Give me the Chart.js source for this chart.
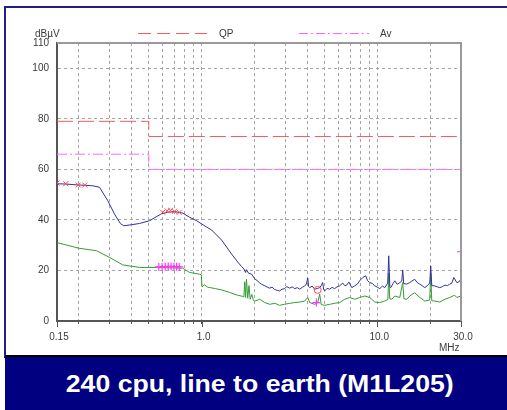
<!DOCTYPE html>
<html>
<head>
<meta charset="utf-8">
<script src="https://cdn.jsdelivr.net/npm/chart.js@4.4.1/dist/chart.umd.min.js"></script>
<style>
  html { margin: 0; padding: 0; background: #000080; overflow: hidden; }
  body { margin: 0; padding: 0; background: transparent; width: 507px; height: 410px;
    position: relative; font-family: Arial, "Liberation Sans", sans-serif; }
  #sheet { position: absolute; left: 0; top: 0; width: 507px; height: 356px; background: #fff; }
  #gutter { position: absolute; left: 0; top: 356px; width: 5px; height: 80px; background: #fff; }
  #frame { position: absolute; left: 4px; top: 6px; width: 501px; height: 350px;
    border-top: 2px solid #1e1e8c; border-left: 2px solid #1e1e8c; }
  #chart { position: absolute; left: 0; top: 0; }
  #caption { position: absolute; left: 5px; top: 355px; width: 502px; height: 80px;
    background: #000080; border-top: 2px solid #000; color: #fff; font-weight: bold;
    font-size: 24px; line-height: 53px; text-align: center; white-space: nowrap; }
  #caption span { display: inline-block; margin-left: 8px; transform: scaleX(1.11); }
</style>
</head>
<body>
<div id="sheet"></div>
<div id="gutter"></div>
<div id="frame"></div>
<canvas id="chart" width="507" height="356"></canvas>
<div id="caption"><span>240 cpu, line to earth (M1L205)</span></div>
<script>
// limit lines (dBµV)
const qpLimitFreq = [0.15, 0.5, 0.5, 30];
const qpLimitLevel = [79, 79, 73, 73];
const avLimitFreq = [0.15, 0.5, 0.5, 30];
const avLimitLevel = [66, 66, 60, 60];

// peak scan
const peakFreq = [
  0.150, 0.168, 0.200, 0.218, 0.240, 0.262, 0.278, 0.292, 0.319, 0.345,
  0.360, 0.400, 0.443, 0.506, 0.550, 0.590, 0.640, 0.700, 0.780, 0.855,
  0.930, 1.000, 1.060, 1.140, 1.300, 1.480, 1.620, 1.690, 1.740, 1.780,
  1.800, 1.850, 1.930, 2.000, 2.070, 2.140, 2.200, 2.290, 2.380, 2.440,
  2.520, 2.600, 2.700, 2.780, 2.870, 2.970, 3.050, 3.170, 3.280, 3.390,
  3.500, 3.620, 3.740, 3.860, 3.950, 4.020, 4.070, 4.120, 4.260, 4.400,
  4.580, 4.700, 4.800, 4.890, 4.950, 5.020, 5.180, 5.360, 5.530, 5.720,
  5.900, 6.110, 6.360, 6.530, 6.700, 6.900, 7.160, 7.440, 7.700, 7.940,
  8.270, 8.600, 8.800, 9.070, 9.400, 9.680, 10.00, 10.33, 10.70, 11.03,
  11.47, 11.63, 11.80, 11.94, 12.30, 12.59, 13.00, 13.44, 13.80, 13.97,
  14.15, 14.73, 15.32, 15.80, 16.36, 16.90, 17.47, 18.00, 18.65, 19.30,
  19.91, 20.17, 20.45, 21.26, 22.00, 22.70, 23.50, 24.30, 25.10, 25.90,
  26.60, 27.30, 28.40, 29.20, 29.90, 30.00
];
const peakLevel = [
  54.3, 54.2, 53.8, 53.7, 53.5, 52.9, 50.0, 47.6, 42.3, 38.5,
  37.7, 38.1, 38.6, 39.7, 41.2, 42.4, 43.0, 43.3, 42.7, 41.0,
  39.8, 38.4, 37.3, 36.0, 32.0, 26.5, 23.0, 21.5, 20.6, 19.2,
  20.3, 18.9, 18.5, 16.8, 16.0, 15.1, 14.5, 13.9, 13.3, 13.0,
  13.4, 12.5, 12.1, 11.9, 12.6, 12.8, 13.6, 13.0, 13.5, 12.8,
  13.2, 12.6, 13.3, 13.9, 14.5, 17.0, 13.6, 13.2, 13.8, 12.6,
  12.9, 13.2, 14.0, 15.2, 12.5, 11.9, 12.9, 12.6, 13.3, 12.8,
  13.5, 13.9, 15.0, 14.0, 14.2, 15.4, 13.2, 13.9, 14.6, 15.9,
  17.2, 17.9, 16.0, 15.2, 14.8, 13.9, 13.4, 12.8, 13.8, 13.2,
  15.0, 25.8, 13.5, 13.2, 14.8, 15.9, 14.5, 15.2, 15.8, 20.2,
  14.8, 14.6, 15.2, 15.9, 16.5, 15.2, 14.6, 14.0, 13.2, 14.0,
  15.0, 21.8, 14.0, 13.9, 13.5, 13.2, 13.6, 14.2, 14.0, 14.6,
  15.0, 17.2, 15.2, 15.5, 16.5, 16.0
];

// average scan
const avgFreq = [
  0.150, 0.200, 0.252, 0.300, 0.355, 0.443, 0.560, 0.780, 0.855, 0.974,
  0.995, 1.005, 1.040, 1.080, 1.120, 1.200, 1.300, 1.444, 1.600, 1.700,
  1.740, 1.760, 1.780, 1.800, 1.830, 1.860, 1.890, 1.930, 1.970,
  2.005, 2.140, 2.290, 2.440, 2.610, 2.780, 2.970, 3.170, 3.390, 3.620,
  3.860, 4.020, 4.120, 4.400, 4.580, 4.700, 4.800, 5.020, 5.360, 5.720,
  6.110, 6.530, 6.970, 7.440, 7.940, 8.490, 9.070, 9.680, 10.33, 11.03,
  11.50, 11.63, 11.78, 12.10, 12.59, 13.44, 13.97, 14.20, 14.73, 15.32,
  16.36, 17.47, 18.65, 19.90, 20.17, 20.45, 21.26, 22.70, 24.30, 25.90,
  27.60, 28.40, 29.90, 30.00
];
const avgLevel = [
  31.0, 28.8, 27.8, 25.1, 22.2, 21.2, 21.2, 20.9, 19.2, 18.5,
  18.3, 13.5, 14.3, 13.4, 13.2, 12.8, 12.3, 11.3, 10.2, 9.8,
  9.6, 15.5, 9.3, 16.5, 9.0, 14.0, 8.6, 10.5, 8.2,
  7.9, 8.6, 7.3, 6.6, 7.0, 6.2, 6.6, 7.0, 7.3, 7.5,
  7.9, 9.3, 7.3, 6.6, 7.3, 10.6, 6.5, 6.2, 6.6, 7.0,
  7.3, 8.6, 9.3, 8.6, 9.3, 9.9, 9.3, 7.5, 7.3, 7.9,
  8.5, 19.0, 8.8, 8.6, 9.9, 9.3, 15.2, 8.8, 8.6, 9.9,
  11.2, 9.3, 7.9, 8.3, 19.0, 8.0, 7.9, 7.5, 8.6, 9.3,
  10.2, 9.3, 9.9, 26.0
];

// final measurement points
const qpMarkFreq = [0.150, 0.168, 0.198, 0.216, 0.600, 0.635, 0.665, 0.700, 0.745, 4.58];
const qpMarkLevel = [54.6, 54.3, 53.8, 53.8, 43.0, 43.6, 43.8, 43.4, 43.0, 12.3];
const avMarkFreq = [0.570, 0.595, 0.620, 0.645, 0.670, 0.695, 0.720, 0.745, 4.50, 30.0];
const avMarkLevel = [21.4, 21.4, 21.5, 21.6, 21.6, 21.5, 21.5, 21.4, 7.3, 27.4];

// axes
const yTicks = [0, 20, 40, 60, 80, 100, 110];
const xGridFreq = [0.15, 0.2, 0.3, 0.4, 0.5, 0.6, 0.7, 0.8, 0.9,
  1, 2, 3, 4, 5, 6, 7, 8, 9, 10, 20, 30];
const xLabelFreq = [0.15, 1, 10, 30];
const xLabelText = ["0.15", "1.0", "10.0", "30.0"];

const FONT = 'Arial, "Liberation Sans", sans-serif';
const TEXT = "#3a3a3a";

function pts(xs, ys) {
  return xs.map((x, i) => ({ x: x, y: ys[i] }));
}

// legend, units, labelled tick marks and the upper/right edges of the plot box
const decorations = {
  id: "decorations",
  afterDraw(chart) {
    const ctx = chart.ctx;
    const a = chart.chartArea;
    const xs = chart.scales.x;
    ctx.save();
    ctx.strokeStyle = "#9a9a9a";
    ctx.lineWidth = 2;
    ctx.beginPath();
    ctx.moveTo(a.left, a.top);
    ctx.lineTo(a.right, a.top);
    ctx.lineTo(a.right, a.bottom);
    ctx.stroke();

    ctx.strokeStyle = "#555";
    ctx.lineWidth = 1;
    xLabelFreq.forEach((f) => {
      const px = Math.round(xs.getPixelForValue(f)) + 0.5;
      ctx.beginPath();
      ctx.moveTo(px, a.bottom);
      ctx.lineTo(px, a.bottom + 6);
      ctx.stroke();
    });

    ctx.font = "10px " + FONT;
    ctx.fillStyle = TEXT;
    ctx.textBaseline = "middle";
    ctx.textAlign = "left";
    ctx.fillText("dBµV", 35, 34);
    ctx.fillText("MHz", 439, 348);

    ctx.strokeStyle = "#ff5a5a";
    ctx.setLineDash([13, 6]);
    ctx.beginPath();
    ctx.moveTo(138, 33.5);
    ctx.lineTo(207, 33.5);
    ctx.stroke();
    ctx.strokeStyle = "#ff66ff";
    ctx.setLineDash([9, 3, 2, 3]);
    ctx.beginPath();
    ctx.moveTo(299, 33.5);
    ctx.lineTo(369, 33.5);
    ctx.stroke();
    ctx.setLineDash([]);
    ctx.fillText("QP", 219, 34);
    ctx.fillText("Av", 380, 34);
    ctx.restore();
  }
};

const ctx = document.getElementById("chart").getContext("2d");
new Chart(ctx, {
  type: "line",
  data: {
    datasets: [
      {
        label: "QP points",
        data: pts(qpMarkFreq, qpMarkLevel),
        showLine: false,
        pointStyle: qpMarkFreq.map((f) => (f > 4 ? "circle" : "crossRot")),
        pointRadius: 3.5,
        borderColor: "#ff4a4a",
        backgroundColor: "rgba(0,0,0,0)",
        borderWidth: 1,
      },
      {
        label: "Av points",
        data: pts(avMarkFreq, avMarkLevel),
        showLine: false,
        pointStyle: "cross",
        pointRadius: 4,
        borderColor: "#ff33ff",
        borderWidth: 1.2,
      },
      {
        label: "Peak",
        data: pts(peakFreq, peakLevel),
        borderColor: "#30309e",
        borderWidth: 1,
        pointRadius: 0,
        tension: 0,
      },
      {
        label: "Average",
        data: pts(avgFreq, avgLevel),
        borderColor: "#339c33",
        borderWidth: 1,
        pointRadius: 0,
        tension: 0,
      },
      {
        label: "QP",
        data: pts(qpLimitFreq, qpLimitLevel),
        borderColor: "#ff5a5a",
        borderWidth: 1,
        borderDash: [16, 5],
        pointRadius: 0,
      },
      {
        label: "Av",
        data: pts(avLimitFreq, avLimitLevel),
        borderColor: "#ff66ff",
        borderWidth: 1,
        borderDash: [10, 3, 2, 3],
        pointRadius: 0,
      },
    ],
  },
  options: {
    responsive: false,
    animation: false,
    events: [],
    layout: { padding: { top: 43, right: 46, left: 0, bottom: 0 } },
    plugins: {
      legend: { display: false },
      tooltip: { enabled: false },
    },
    scales: {
      x: {
        type: "logarithmic",
        min: 0.15,
        max: 30,
        afterBuildTicks: (scale) => {
          scale.ticks = xGridFreq.map((v) => ({ value: v }));
        },
        afterFit: (scale) => {
          scale.height = 35;
        },
        ticks: {
          autoSkip: false,
          maxRotation: 0,
          padding: 7,
          labelOffset: 2,
          color: TEXT,
          font: { family: FONT, size: 10 },
          callback: (value) => {
            const i = xLabelFreq.findIndex((f) => Math.abs(f - value) < 1e-6);
            return i >= 0 ? xLabelText[i] : "";
          },
        },
        grid: {
          color: (c) =>
            c.tick && (c.tick.value === 0.15 || c.tick.value === 30)
              ? "rgba(0,0,0,0)"
              : "#a6a6a6",
          lineWidth: 1,
          drawTicks: true,
          tickLength: 3,
          tickColor: "#555",
        },
        border: { display: true, color: "#555", width: 2, dash: [3, 3] },
      },
      y: {
        type: "linear",
        min: 0,
        max: 110,
        afterBuildTicks: (scale) => {
          scale.ticks = yTicks.map((v) => ({ value: v }));
        },
        afterFit: (scale) => {
          scale.width = 57;
        },
        ticks: {
          padding: 8,
          color: TEXT,
          font: { family: FONT, size: 10 },
        },
        grid: {
          color: (c) =>
            c.tick && (c.tick.value === 0 || c.tick.value === 110)
              ? "rgba(0,0,0,0)"
              : "#a6a6a6",
          lineWidth: 1,
          drawTicks: false,
        },
        border: { display: true, color: "#555", width: 2, dash: [3, 3] },
      },
    },
  },
  plugins: [decorations],
});
</script>
</body>
</html>
